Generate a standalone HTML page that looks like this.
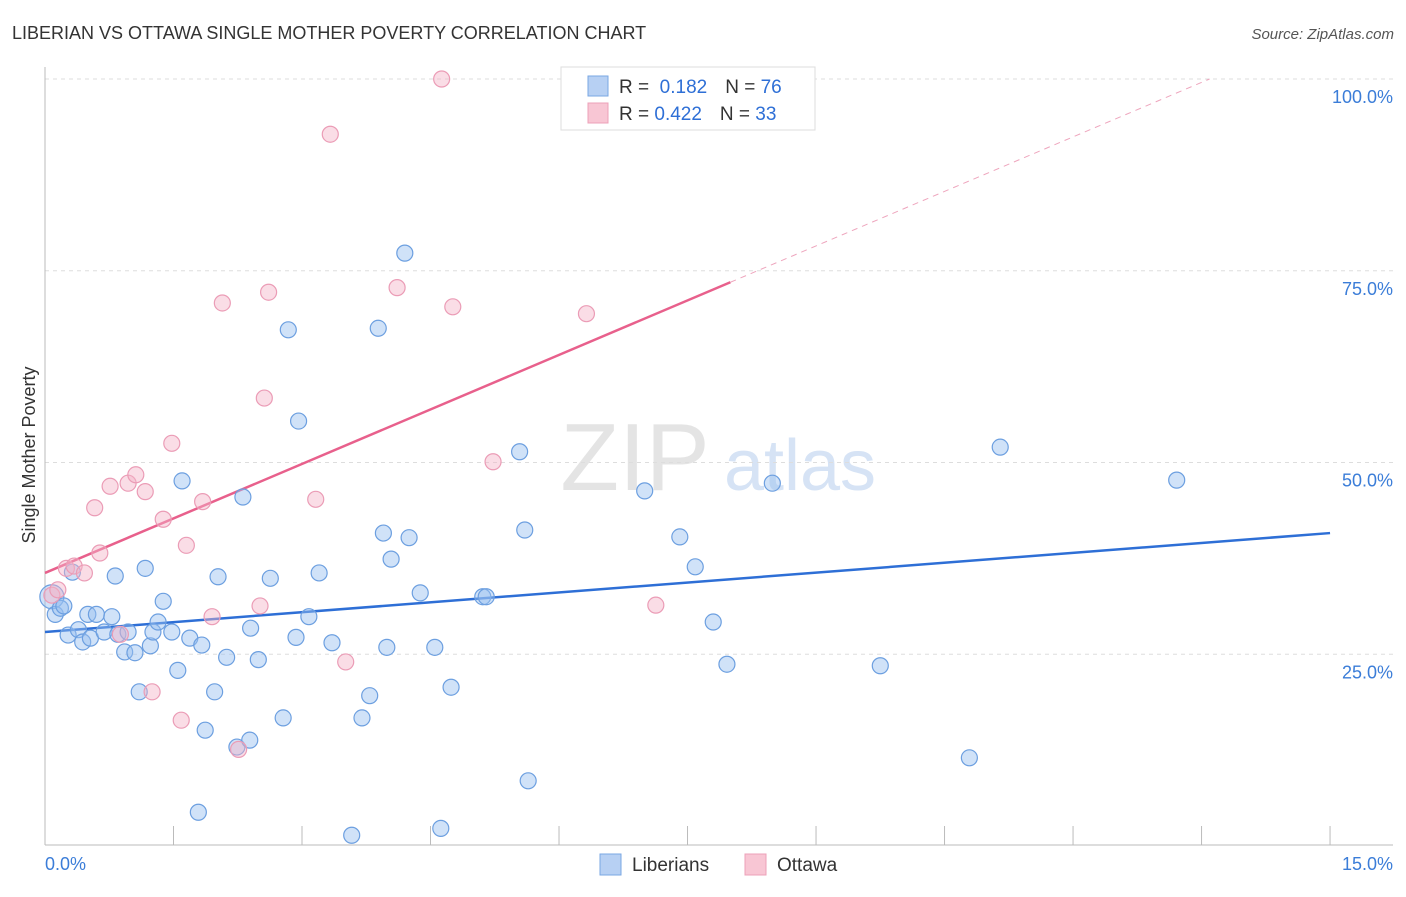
<!DOCTYPE html>
<html><head><meta charset="utf-8"><style>
body{margin:0;background:#fff;font-family:"Liberation Sans",sans-serif}
svg text{font-family:"Liberation Sans",sans-serif}
</style></head><body>
<svg id="chart" width="1406" height="892">
<text x="12" y="39" font-size="18" fill="#333">LIBERIAN VS OTTAWA SINGLE MOTHER POVERTY CORRELATION CHART</text>
<text x="1394" y="39" font-size="15" fill="#555" text-anchor="end" font-style="italic">Source: ZipAtlas.com</text>
<text x="35" y="455" font-size="18" fill="#333" text-anchor="middle" transform="rotate(-90 35 455)">Single Mother Poverty</text>
<g><text x="635" y="490" font-size="96" fill="#e4e4e4" text-anchor="middle" font-family="Liberation Serif">ZIP</text><text x="800" y="490" font-size="72" fill="#d6e3f5" text-anchor="middle">atlas</text></g>
<g id="grid"></g><g id="axes"></g><g id="trend"></g><g id="pts"></g>
<g>
<rect x="561" y="67" width="254" height="63" fill="#fff" stroke="#ddd"/>
<rect x="588" y="76" width="20" height="20" fill="#b7d0f3" stroke="#7aa7e3"/>
<rect x="588" y="103" width="20" height="20" fill="#f8c6d4" stroke="#eda0b8"/>
<text x="619" y="93" font-size="19" fill="#333">R = <tspan fill="#2e6fd6">&#160;0.182</tspan><tspan dx="18">N = </tspan><tspan fill="#2e6fd6">76</tspan></text>
<text x="619" y="120" font-size="19" fill="#333">R = <tspan fill="#2e6fd6">0.422</tspan><tspan dx="18">N = </tspan><tspan fill="#2e6fd6">33</tspan></text>
</g>
<g>
<rect x="600" y="854" width="21" height="21" fill="#b7d0f3" stroke="#7aa7e3"/>
<text x="632" y="871" font-size="19" fill="#333">Liberians</text>
<rect x="745" y="854" width="21" height="21" fill="#f8c6d4" stroke="#eda0b8"/>
<text x="777" y="871" font-size="19" fill="#333">Ottawa</text>
</g>
</svg>
<script>
const blueX=[.08,.12,.18,.22,.27,.32,.39,.44,.53,.50,.60,.69,.78,.82,.85,.93,.97,1.05,1.10,1.17,1.23,1.26,1.32,1.38,1.48,1.55,1.60,1.69,1.79,1.83,1.87,1.98,2.02,2.12,2.24,2.31,2.39,2.40,2.49,2.63,2.78,2.84,2.93,2.96,3.08,3.20,3.35,3.58,3.70,3.79,3.89,3.95,3.99,4.04,4.20,4.25,4.38,4.55,4.62,4.74,5.11,5.15,5.54,5.60,5.64,7.00,7.41,7.59,7.80,7.96,8.49,9.75,10.79,11.15,13.21];
const blueY=[32.5,30.2,31.0,31.3,27.5,35.7,28.2,26.6,27.1,30.2,30.2,27.9,29.9,35.2,27.6,25.3,27.9,25.2,20.1,36.2,26.1,27.9,29.2,31.9,27.9,22.9,47.6,27.1,4.4,26.2,15.1,20.1,35.1,24.6,12.9,45.5,13.8,28.4,24.3,34.9,16.7,67.3,27.2,55.4,29.9,35.6,26.5,1.4,16.7,19.6,67.5,40.8,25.9,37.4,77.3,40.2,33.0,25.9,2.3,20.7,32.5,32.5,51.4,41.2,8.5,46.3,40.3,36.4,29.2,23.7,47.3,23.5,11.5,52.0,47.7];
const pinkX=[.08,.15,.25,.34,.46,.58,.64,.76,.88,.97,1.06,1.17,1.25,1.38,1.48,1.59,1.65,1.84,1.95,2.07,2.26,2.51,2.56,2.61,3.16,3.33,3.51,4.11,4.63,4.76,5.23,6.32,7.13];
const pinkY=[32.7,33.4,36.2,36.5,35.6,44.1,38.2,46.9,27.6,47.3,48.4,46.2,20.1,42.6,52.5,16.4,39.2,44.9,29.9,70.8,12.6,31.3,58.4,72.2,45.2,92.8,24.0,72.8,100,70.3,50.1,69.4,31.4];
const blueTrend=[27.9,40.8];
const pinkTrend=[35.6,73.5];
const yTicks=[25,50,75,100];
const yTickLabels=["25.0%","50.0%","75.0%","100.0%"];
const xTicks=[1.5,3,4.5,6,7.5,9,10.5,12,13.5,15];

const X=v=>45+v*85.67, Y=v=>846-v*7.67;
const NS="http://www.w3.org/2000/svg";
function mk(parent,tag,at){const e=document.createElementNS(NS,tag);for(const k in at)e.setAttribute(k,at[k]);document.getElementById(parent).appendChild(e);return e;}
yTicks.forEach((t,i)=>{
 const l=mk('grid','line',{x1:45,x2:1393,y1:Y(t),y2:Y(t),stroke:'#ddd','stroke-dasharray':'4 4'});
 
 
 const tx=mk('axes','text',{x:1393,y:Y(t)+24,'font-size':18,fill:'#3b7dd8','text-anchor':'end'});
 tx.textContent=yTickLabels[i];
 
 
});
let a=mk('axes','line',{x1:45,x2:1393,y1:845,y2:845,stroke:'#bbb'});


a=mk('axes','line',{x1:45,x2:45,y1:67,y2:845,stroke:'#bbb'});


xTicks.forEach(t=>{
 const l=mk('axes','line',{x1:X(t),x2:X(t),y1:826,y2:845,stroke:'#bbb'});
 
 
});
let t0=mk('axes','text',{x:45,y:870,'font-size':18,fill:'#3b7dd8'});t0.textContent='0.0%';


let t1=mk('axes','text',{x:1393,y:870,'font-size':18,fill:'#3b7dd8','text-anchor':'end'});t1.textContent='15.0%';



blueX.forEach((v,i)=>{
 const c=mk('pts','circle',{cx:X(v),cy:Y(blueY[i]),r:i==0?12:8,fill:'rgba(150,190,240,0.45)',stroke:'#6c9fe0','stroke-width':1.2});
 
 
});
pinkX.forEach((v,i)=>{
 const c=mk('pts','circle',{cx:X(v),cy:Y(pinkY[i]),r:8,fill:'rgba(245,180,200,0.45)',stroke:'#eb9cb6','stroke-width':1.2});
 
 
});
const bl=mk('trend','line',{x1:X(0),y1:Y(blueTrend[0]),x2:X(15),y2:Y(blueTrend[1]),stroke:'#2e6fd6','stroke-width':2.5});


const ps=(pinkTrend[1]-pinkTrend[0])/8;
const pl=mk('trend','line',{x1:X(0),y1:Y(pinkTrend[0]),x2:X(8),y2:Y(pinkTrend[1]),stroke:'#e8608c','stroke-width':2.5});


const xe=(100-pinkTrend[0])/ps;
const pd=mk('trend','line',{x1:X(8),y1:Y(pinkTrend[1]),x2:X(xe),y2:Y(100),stroke:'#eea5bd','stroke-width':1,'stroke-dasharray':'6 5'});


</script>
</body></html>
